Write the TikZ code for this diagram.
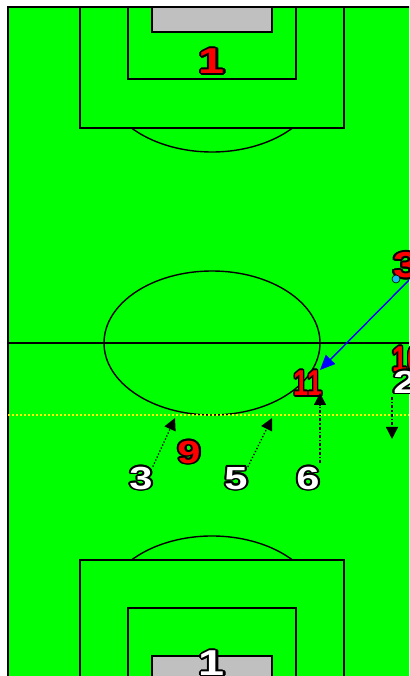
\documentclass[tikz,border=0pt]{standalone}
\usepackage{fontspec}
\setsansfont{Liberation Sans}
\usepackage{contour}
\usepackage{tikz}
\usetikzlibrary{arrows.meta}
\contourlength{1.6pt}
\definecolor{clrPitch}{RGB}{0,255,0}
\definecolor{clrGoal}{RGB}{192,192,192}
\definecolor{clrBall}{RGB}{20,190,240}
\definecolor{clrPass}{RGB}{0,0,255}
\definecolor{clrMark}{RGB}{255,240,0}
\newcommand{\shirt}[1]{\contour{black}{#1}}
\tikzset{
  pitchline/.style={draw=black,line width=1.4pt},
  goalbox/.style={draw=black,line width=1.4pt,fill=clrGoal},
  player/.style={font=\sffamily\bfseries\fontsize{32}{32}\selectfont,
    inner sep=0pt,xscale=1.3,transform shape},
  bignum/.style={font=\sffamily\bfseries\fontsize{36}{36}\selectfont},
  homeno/.style={player,text=red},
  awayno/.style={player,text=white},
  pass/.style={-{Triangle[length=15pt,width=13pt]},line width=1.4pt,draw=clrPass},
  run/.style={-{Triangle[length=12pt,width=12pt]},line width=1.3pt,draw=black},
  offside/.style={draw=clrMark,line width=1.2pt,dash pattern=on 2pt off 2pt}
}

\begin{document}
\begin{tikzpicture}[x=1pt,y=1pt]
  \useasboundingbox (0,0) rectangle (409,676);
  \clip (0,0) rectangle (409,676);
  \fill[fill=white] (0,0) rectangle (409,676);
  % field
  \draw[fill=clrPitch,draw=black,line width=1.8pt] (8,-3) rectangle (416,669);
  \draw[pitchline] (8,333) -- (416,333);
  \draw[pitchline] (212,333) ellipse [x radius=108,y radius=72];
  % top end
  \draw[pitchline] (80,669) rectangle (344,548);
  \draw[pitchline] (128,669) rectangle (296,597);
  \draw[goalbox] (152,669) rectangle (272,644);
  \draw[pitchline] (131.5,548) arc[start angle=221.8,end angle=318.2,x radius=108,y radius=72];
  % bottom end
  \draw[pitchline] (80,-3) rectangle (344,116);
  \draw[pitchline] (128,-3) rectangle (296,68);
  \draw[goalbox] (152,-3) rectangle (272,20);
  \draw[pitchline] (292.5,116) arc[start angle=41.8,end angle=138.2,x radius=108,y radius=72];
  % offside line
  \draw[offside] (8,261) -- (409,261);
  % players
  \node[homeno,bignum] (gkA) at (212,614) {\shirt{1}};
  \node[awayno,bignum] (gkB) at (212,12) {\shirt{1}};
  \node[homeno,bignum,anchor=west] (r3) at (393,410) {\shirt{3}};
  \node[homeno,bignum,anchor=west,xscale=0.58] (r10) at (392,316) {\shirt{10}};
  \node[homeno,bignum,xscale=0.58] (r11) at (308,292) {\shirt{11}};
  \node[awayno,anchor=west] (w2) at (393,293) {\shirt{2}};
  \node[homeno] (r9) at (189,223) {\shirt{9}};
  \node[awayno] (w3) at (141,197) {\shirt{3}};
  \node[awayno] (w5) at (236,197) {\shirt{5}};
  \node[awayno] (w6) at (308,197) {\shirt{6}};
  \node[circle,fill=clrBall,draw=black,line width=0.6pt,inner sep=0pt,
    minimum size=8pt] (ball) at (396,397) {};
  % movements
  \coordinate (passfrom) at (416,403);
  \coordinate (passto) at (320,306);
  \coordinate (tip3) at (175,258);
  \coordinate (tip5) at (272,258);
  \coordinate (runfrom) at (320,213);
  \coordinate (runto) at (320,283);
  \coordinate (dropfrom) at (392,279);
  \coordinate (dropto) at (392,237);
  \draw[pass] (passfrom) -- (passto);
  \draw[run,dotted] (w3.north east) -- (tip3);
  \draw[run,dotted] (w5.north east) -- (tip5);
  \draw[run,dash dot] (runfrom) -- (runto);
  \draw[run,dash dot] (dropfrom) -- (dropto);
\end{tikzpicture}
\end{document}
